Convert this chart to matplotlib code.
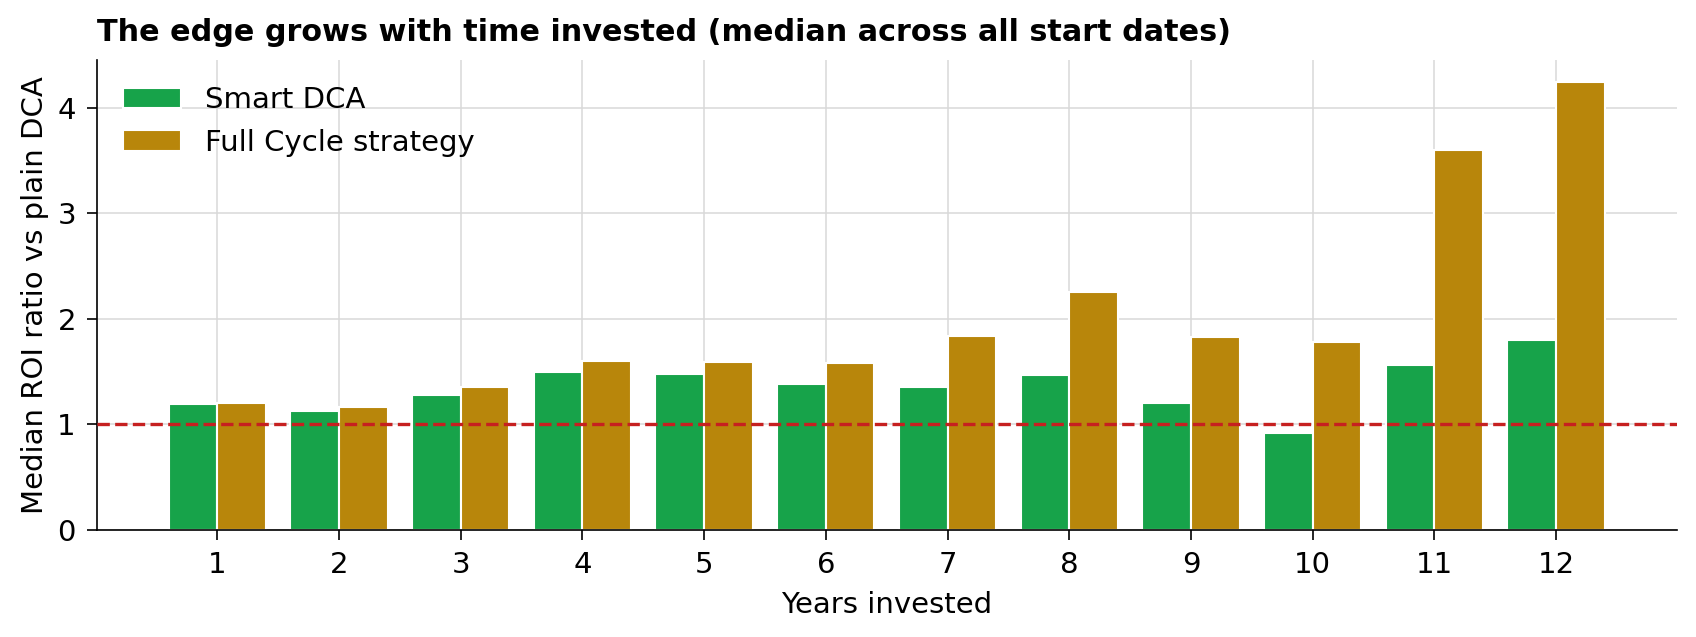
import matplotlib
matplotlib.use("Agg")
import matplotlib.pyplot as plt
from matplotlib.ticker import MultipleLocator
import numpy as np

# --- data ---
years = [1, 2, 3, 4, 5, 6, 7, 8, 9, 10, 11, 12]
smart_dca = [1.19, 1.13, 1.28, 1.50, 1.48, 1.38, 1.35, 1.47, 1.20, 0.92, 1.56, 1.80]
full_cycle = [1.20, 1.16, 1.35, 1.60, 1.59, 1.58, 1.84, 2.25, 1.83, 1.78, 3.60, 4.24]

GREEN = "#17a34a"
GOLD = "#b8860b"
RED = "#c62020"


def make_plot():
    fig = plt.figure(figsize=(11.313, 4.247), dpi=150)
    ax = fig.add_axes([0.057, 0.168, 0.931, 0.738])

    x = np.array(years, dtype=float)
    w = 0.4
    ax.bar(x - w / 2, smart_dca, width=w, color=GREEN, edgecolor="white",
           linewidth=1, label="Smart DCA", zorder=2)
    ax.bar(x + w / 2, full_cycle, width=w, color=GOLD, edgecolor="white",
           linewidth=1, label="Full Cycle strategy", zorder=2)

    # baseline: plain DCA
    ax.axhline(1.0, color=RED, linestyle="--", linewidth=1.6, zorder=3)

    ax.set_xticks(years)
    ax.yaxis.set_major_locator(MultipleLocator(1))
    ax.set_axisbelow(True)
    ax.grid(True, color="#d8d8d8", linewidth=0.8, alpha=0.9)

    ax.spines["top"].set_visible(False)
    ax.spines["right"].set_visible(False)

    ax.tick_params(labelsize=14, length=5, pad=5)
    ax.set_xlabel("Years invested", fontsize=14, labelpad=6)
    ax.set_ylabel("Median ROI ratio vs plain DCA", fontsize=14)
    ax.set_title("The edge grows with time invested (median across all start dates)",
                 loc="left", fontsize=14.5, fontweight="bold", pad=9)
    ax.legend(loc="upper left", frameon=False, fontsize=14)

    fig.savefig("out.png", dpi=150)


if __name__ == "__main__":
    make_plot()
